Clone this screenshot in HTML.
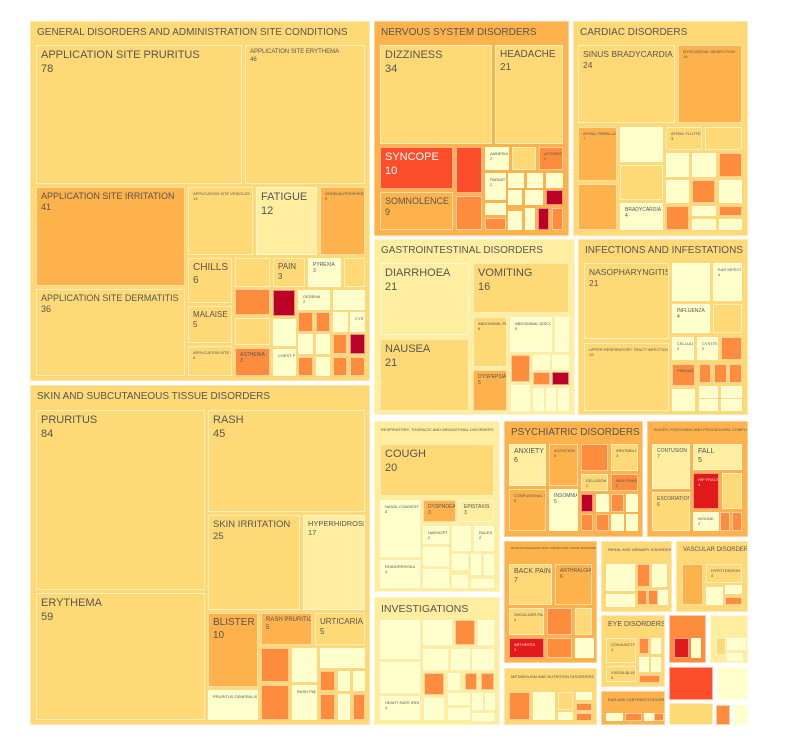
<!DOCTYPE html>
<html><head><meta charset="utf-8"><style>
body{margin:0;background:#fff;width:811px;height:754px;position:relative;overflow:hidden;font-family:"Liberation Sans",sans-serif}
div{position:absolute;box-sizing:border-box;border:1px solid rgba(255,255,255,.55);color:#555;padding:3px 4px;line-height:1.25;overflow:hidden;white-space:nowrap}
.p{border:1px solid rgba(255,255,255,.4);padding:5px 6px;font-size:10px}
.a{background:#ffffcc}.b{background:#ffeda0}.c{background:#fed976}.d{background:#feb24c}.e{background:#fd8d3c}.f{background:#fc4e2a;color:#fff}.g{background:#e31a1c;color:#fdd}.h{background:#bd0026}
.L{font-size:11px}.M{font-size:8px}.S{font-size:5px}.T{font-size:4px}
</style></head><body>
<!-- General -->
<div class="p c" style="left:30px;top:21px;width:340px;height:360px">GENERAL DISORDERS AND ADMINISTRATION SITE CONDITIONS</div>
<div class="c L" style="left:36px;top:45px;width:206px;height:139px">APPLICATION SITE PRURITUS<br>78</div>
<div class="c S" style="left:245px;top:45px;width:120px;height:139px;font-size:6px">APPLICATION SITE ERYTHEMA<br>46</div>
<div class="d" style="left:36px;top:187px;width:149px;height:99px;font-size:9px">APPLICATION SITE IRRITATION<br>41</div>
<div class="c" style="left:36px;top:289px;width:149px;height:87px;font-size:9px">APPLICATION SITE DERMATITIS<br>36</div>
<div class="c T" style="left:188px;top:187px;width:65px;height:68px">APPLICATION SITE VESICLES<br>13</div>
<div class="b L" style="left:256px;top:187px;width:61px;height:68px">FATIGUE<br>12</div>
<div class="d T" style="left:320px;top:187px;width:45px;height:68px">OEDEMA PERIPHERAL<br>9</div>
<div class="c" style="left:188px;top:258px;width:44px;height:45px;font-size:10px">CHILLS<br>6</div>
<div class="c M" style="left:188px;top:306px;width:44px;height:37px">MALAISE<br>5</div>
<div class="c T" style="left:188px;top:346px;width:44px;height:30px">APPLICATION SITE SWELLING<br>4</div>
<div class="c" style="left:235px;top:258px;width:35px;height:29px"></div>
<div class="c M" style="left:273px;top:258px;width:32px;height:29px">PAIN<br>3</div>
<div class="a S" style="left:308px;top:258px;width:33px;height:29px">PYREXIA<br>3</div>
<div class="c" style="left:344px;top:258px;width:21px;height:29px"></div>
<div class="e" style="left:235px;top:289px;width:35px;height:26px"></div>
<div class="h" style="left:273px;top:290px;width:22px;height:26px"></div>
<div class="a T" style="left:298px;top:290px;width:32px;height:20px">OEDEMA<br>2</div>
<div class="a" style="left:333px;top:290px;width:32px;height:20px"></div>
<div class="c" style="left:235px;top:318px;width:35px;height:27px"></div>
<div class="a" style="left:273px;top:319px;width:23px;height:27px"></div>
<div class="e" style="left:298px;top:312px;width:15px;height:20px"></div>
<div class="e" style="left:316px;top:312px;width:14px;height:20px"></div>
<div class="a" style="left:333px;top:312px;width:15px;height:20px"></div>
<div class="a T" style="left:350px;top:312px;width:15px;height:20px">CYST</div>
<div class="a" style="left:298px;top:334px;width:15px;height:20px"></div>
<div class="a" style="left:316px;top:334px;width:14px;height:20px"></div>
<div class="e" style="left:333px;top:334px;width:14px;height:20px"></div>
<div class="h" style="left:350px;top:334px;width:15px;height:20px"></div>
<div class="e S" style="left:235px;top:348px;width:35px;height:28px">ASTHENIA<br>3</div>
<div class="a T" style="left:273px;top:349px;width:23px;height:27px">CHEST PAIN</div>
<div class="e" style="left:298px;top:357px;width:15px;height:19px"></div>
<div class="a" style="left:316px;top:357px;width:14px;height:19px"></div>
<div class="e" style="left:333px;top:357px;width:14px;height:19px"></div>
<div class="e" style="left:350px;top:357px;width:15px;height:19px"></div>
<!-- Skin -->
<div class="p c" style="left:30px;top:385px;width:340px;height:340px">SKIN AND SUBCUTANEOUS TISSUE DISORDERS</div>
<div class="c L" style="left:36px;top:410px;width:169px;height:180px">PRURITUS<br>84</div>
<div class="c L" style="left:36px;top:593px;width:169px;height:127px">ERYTHEMA<br>59</div>
<div class="c L" style="left:208px;top:410px;width:157px;height:102px">RASH<br>45</div>
<div class="c" style="left:208px;top:515px;width:92px;height:95px;font-size:9.5px">SKIN IRRITATION<br>25</div>
<div class="b" style="left:303px;top:515px;width:62px;height:95px;font-size:7.5px">HYPERHIDROSIS<br>17</div>
<div class="d" style="left:208px;top:613px;width:50px;height:74px;font-size:10px">BLISTER<br>10</div>
<div class="a T" style="left:208px;top:690px;width:50px;height:30px">PRURITUS GENERALISED</div>
<div class="d" style="left:261px;top:613px;width:51px;height:32px;font-size:6px">RASH PRURITIC<br>5</div>
<div class="c M" style="left:315px;top:613px;width:50px;height:32px">URTICARIA<br>5</div>
<div class="e" style="left:261px;top:648px;width:28px;height:34px"></div>
<div class="a" style="left:292px;top:648px;width:25px;height:34px"></div>
<div class="a" style="left:320px;top:648px;width:45px;height:20px"></div>
<div class="e" style="left:320px;top:671px;width:15px;height:20px"></div>
<div class="a" style="left:338px;top:671px;width:12px;height:20px"></div>
<div class="a" style="left:353px;top:671px;width:12px;height:20px"></div>
<div class="e" style="left:261px;top:685px;width:28px;height:35px"></div>
<div class="a T" style="left:292px;top:685px;width:25px;height:35px">RASH PAPULAR</div>
<div class="e" style="left:320px;top:694px;width:15px;height:26px"></div>
<div class="a" style="left:338px;top:694px;width:12px;height:26px"></div>
<div class="e" style="left:353px;top:694px;width:12px;height:26px"></div>
<!-- Nervous -->
<div class="p d" style="left:374px;top:21px;width:195px;height:215px">NERVOUS SYSTEM DISORDERS</div>
<div class="c L" style="left:380px;top:45px;width:112px;height:99px">DIZZINESS<br>34</div>
<div class="c" style="left:495px;top:45px;width:68px;height:99px;font-size:10px">HEADACHE<br>21</div>
<div class="f L" style="left:380px;top:147px;width:73px;height:42px">SYNCOPE<br>10</div>
<div class="d" style="left:380px;top:192px;width:73px;height:38px;font-size:9px">SOMNOLENCE<br>9</div>
<div class="f" style="left:456px;top:147px;width:26px;height:46px"></div>
<div class="e" style="left:456px;top:196px;width:26px;height:34px"></div>
<div class="a T" style="left:485px;top:147px;width:24px;height:23px">AMNESIA<br>2</div>
<div class="c" style="left:512px;top:147px;width:24px;height:23px"></div>
<div class="e T" style="left:539px;top:147px;width:24px;height:23px">LETHARGY<br>2</div>
<div class="a T" style="left:485px;top:173px;width:21px;height:27px">PARAES<br>2</div>
<div class="a" style="left:508px;top:173px;width:16px;height:15px"></div>
<div class="a" style="left:527px;top:173px;width:16px;height:15px"></div>
<div class="a" style="left:546px;top:173px;width:17px;height:15px"></div>
<div class="a" style="left:485px;top:203px;width:21px;height:12px"></div>
<div class="e" style="left:485px;top:218px;width:21px;height:12px"></div>
<div class="a" style="left:508px;top:190px;width:14px;height:15px"></div>
<div class="a" style="left:525px;top:190px;width:18px;height:15px"></div>
<div class="h" style="left:546px;top:190px;width:17px;height:15px"></div>
<div class="a" style="left:508px;top:211px;width:14px;height:19px"></div>
<div class="a" style="left:525px;top:208px;width:10px;height:22px"></div>
<div class="h" style="left:538px;top:208px;width:11px;height:22px"></div>
<div class="e" style="left:552px;top:208px;width:11px;height:22px"></div>
<!-- Cardiac -->
<div class="p c" style="left:573px;top:21px;width:175px;height:215px">CARDIAC DISORDERS</div>
<div class="c" style="left:578px;top:45px;width:97px;height:78px;font-size:8.5px">SINUS BRADYCARDIA<br>24</div>
<div class="d T" style="left:678px;top:45px;width:64px;height:78px">MYOCARDIAL INFARCTION<br>16</div>
<div class="d T" style="left:578px;top:127px;width:39px;height:54px">ATRIAL FIBRILLATION<br>7</div>
<div class="d" style="left:578px;top:184px;width:39px;height:46px"></div>
<div class="a" style="left:620px;top:127px;width:43px;height:35px"></div>
<div class="c" style="left:620px;top:165px;width:43px;height:35px"></div>
<div class="a S" style="left:620px;top:203px;width:43px;height:27px">BRADYCARDIA<br>4</div>
<div class="c T" style="left:666px;top:127px;width:36px;height:23px">ATRIAL FLUTTER<br>3</div>
<div class="c" style="left:705px;top:127px;width:37px;height:23px"></div>
<div class="a" style="left:666px;top:153px;width:23px;height:24px"></div>
<div class="a" style="left:692px;top:153px;width:24px;height:24px"></div>
<div class="e" style="left:719px;top:153px;width:23px;height:24px"></div>
<div class="a" style="left:666px;top:180px;width:23px;height:23px"></div>
<div class="e" style="left:692px;top:180px;width:23px;height:23px"></div>
<div class="a" style="left:719px;top:180px;width:23px;height:23px"></div>
<div class="e" style="left:666px;top:206px;width:23px;height:24px"></div>
<div class="a" style="left:692px;top:206px;width:24px;height:10px"></div>
<div class="e" style="left:719px;top:206px;width:23px;height:10px"></div>
<div class="a" style="left:692px;top:219px;width:24px;height:11px"></div>
<div class="a" style="left:719px;top:219px;width:23px;height:11px"></div>
<!-- GI -->
<div class="p b" style="left:374px;top:239px;width:201px;height:176px">GASTROINTESTINAL DISORDERS</div>
<div class="b L" style="left:380px;top:263px;width:89px;height:72px">DIARRHOEA<br>21</div>
<div class="c L" style="left:380px;top:339px;width:89px;height:72px">NAUSEA<br>21</div>
<div class="c L" style="left:473px;top:263px;width:96px;height:50px">VOMITING<br>16</div>
<div class="c T" style="left:473px;top:317px;width:34px;height:50px">ABDOMINAL PAIN<br>6</div>
<div class="a T" style="left:510px;top:317px;width:42px;height:35px">ABDOMINAL DISCOMFORT<br>5</div>
<div class="a" style="left:555px;top:317px;width:14px;height:35px"></div>
<div class="d S" style="left:473px;top:370px;width:34px;height:41px">DYSPEPSIA<br>5</div>
<div class="e" style="left:511px;top:355px;width:19px;height:27px"></div>
<div class="a" style="left:533px;top:355px;width:17px;height:15px"></div>
<div class="a" style="left:552px;top:355px;width:17px;height:15px"></div>
<div class="e" style="left:533px;top:372px;width:17px;height:13px"></div>
<div class="h" style="left:552px;top:372px;width:17px;height:13px"></div>
<div class="a" style="left:511px;top:385px;width:19px;height:26px"></div>
<div class="a" style="left:533px;top:388px;width:11px;height:23px"></div>
<div class="a" style="left:546px;top:388px;width:10px;height:23px"></div>
<div class="a" style="left:558px;top:388px;width:11px;height:23px"></div>
<!-- Infections -->
<div class="p c" style="left:578px;top:239px;width:170px;height:176px">INFECTIONS AND INFESTATIONS</div>
<div class="c" style="left:584px;top:263px;width:85px;height:76px;font-size:8.5px">NASOPHARYNGITIS<br>21</div>
<div class="c T" style="left:584px;top:343px;width:85px;height:68px">UPPER RESPIRATORY TRACT INFECTION<br>19</div>
<div class="a" style="left:672px;top:263px;width:38px;height:38px"></div>
<div class="a T" style="left:713px;top:263px;width:29px;height:38px">EAR INFECTION<br>4</div>
<div class="a S" style="left:672px;top:304px;width:38px;height:29px">INFLUENZA<br>4</div>
<div class="c" style="left:713px;top:304px;width:29px;height:29px"></div>
<div class="a T" style="left:672px;top:337px;width:22px;height:23px">CELLULITIS<br>2</div>
<div class="a T" style="left:697px;top:337px;width:21px;height:23px">CYSTITIS<br>2</div>
<div class="e" style="left:721px;top:337px;width:21px;height:23px"></div>
<div class="e T" style="left:672px;top:364px;width:23px;height:22px">PNEUMONIA</div>
<div class="e" style="left:699px;top:364px;width:12px;height:19px"></div>
<div class="e" style="left:714px;top:364px;width:13px;height:19px"></div>
<div class="e" style="left:729px;top:364px;width:13px;height:19px"></div>
<div class="a" style="left:672px;top:389px;width:23px;height:22px"></div>
<div class="a" style="left:699px;top:386px;width:19px;height:12px"></div>
<div class="a" style="left:721px;top:386px;width:21px;height:12px"></div>
<div class="a" style="left:699px;top:399px;width:19px;height:12px"></div>
<div class="a" style="left:721px;top:399px;width:21px;height:12px"></div>
<!-- Respiratory -->
<div class="p b" style="left:374px;top:421px;width:126px;height:171px;font-size:4px">RESPIRATORY, THORACIC AND MEDIASTINAL DISORDERS</div>
<div class="c L" style="left:380px;top:444px;width:114px;height:52px">COUGH<br>20</div>
<div class="a T" style="left:380px;top:500px;width:40px;height:57px">NASAL CONGESTION<br>8</div>
<div class="a T" style="left:380px;top:560px;width:40px;height:28px">RHINORRHOEA<br>4</div>
<div class="d S" style="left:423px;top:500px;width:33px;height:22px">DYSPNOEA<br>3</div>
<div class="b S" style="left:459px;top:500px;width:35px;height:22px">EPISTAXIS<br>3</div>
<div class="a T" style="left:423px;top:526px;width:26px;height:18px">HAEMOPTYSIS<br>2</div>
<div class="a" style="left:452px;top:526px;width:19px;height:25px"></div>
<div class="a T" style="left:474px;top:526px;width:20px;height:25px">RALES<br>2</div>
<div class="a" style="left:423px;top:547px;width:26px;height:19px"></div>
<div class="a" style="left:452px;top:554px;width:16px;height:16px"></div>
<div class="a" style="left:471px;top:554px;width:10px;height:21px"></div>
<div class="a" style="left:484px;top:554px;width:10px;height:21px"></div>
<div class="a" style="left:423px;top:569px;width:26px;height:19px"></div>
<div class="a" style="left:452px;top:575px;width:16px;height:13px"></div>
<div class="a" style="left:471px;top:579px;width:23px;height:9px"></div>
<!-- Investigations -->
<div class="p b" style="left:374px;top:597px;width:126px;height:128px;font-size:10.5px">INVESTIGATIONS</div>
<div class="a" style="left:380px;top:620px;width:40px;height:39px"></div>
<div class="a" style="left:423px;top:620px;width:29px;height:25px"></div>
<div class="e" style="left:455px;top:620px;width:20px;height:25px"></div>
<div class="a" style="left:478px;top:620px;width:16px;height:25px"></div>
<div class="a" style="left:423px;top:649px;width:25px;height:21px"></div>
<div class="a" style="left:451px;top:649px;width:19px;height:21px"></div>
<div class="a" style="left:472px;top:649px;width:22px;height:21px"></div>
<div class="a" style="left:380px;top:662px;width:40px;height:31px"></div>
<div class="a T" style="left:380px;top:696px;width:40px;height:24px">HEART RATE IRREGULAR<br>4</div>
<div class="e" style="left:424px;top:673px;width:20px;height:22px"></div>
<div class="a" style="left:448px;top:673px;width:12px;height:17px"></div>
<div class="e" style="left:465px;top:673px;width:12px;height:17px"></div>
<div class="e" style="left:481px;top:673px;width:13px;height:17px"></div>
<div class="a" style="left:424px;top:698px;width:20px;height:22px"></div>
<div class="a" style="left:448px;top:693px;width:22px;height:12px"></div>
<div class="a" style="left:472px;top:693px;width:11px;height:17px"></div>
<div class="a" style="left:485px;top:693px;width:9px;height:17px"></div>
<div class="a" style="left:448px;top:708px;width:22px;height:12px"></div>
<div class="a" style="left:472px;top:713px;width:22px;height:7px"></div>
<!-- Psychiatric -->
<div class="p d" style="left:504px;top:421px;width:139px;height:116px">PSYCHIATRIC DISORDERS</div>
<div class="b" style="left:509px;top:444px;width:37px;height:42px;font-size:7px">ANXIETY<br>6</div>
<div class="d T" style="left:549px;top:444px;width:29px;height:42px">AGITATION<br>5</div>
<div class="e" style="left:581px;top:444px;width:27px;height:27px"></div>
<div class="c T" style="left:611px;top:444px;width:27px;height:27px">IRRITABILITY<br>3</div>
<div class="c T" style="left:581px;top:474px;width:27px;height:17px">DELUSION<br>2</div>
<div class="e T" style="left:611px;top:474px;width:27px;height:17px">NIGHTMARE<br>2</div>
<div class="d T" style="left:509px;top:489px;width:37px;height:42px">CONFUSIONAL STATE<br>5</div>
<div class="a S" style="left:549px;top:489px;width:29px;height:42px">INSOMNIA<br>5</div>
<div class="h" style="left:581px;top:494px;width:12px;height:18px"></div>
<div class="a" style="left:596px;top:494px;width:13px;height:18px"></div>
<div class="e" style="left:611px;top:494px;width:13px;height:18px"></div>
<div class="a" style="left:626px;top:494px;width:12px;height:18px"></div>
<div class="e" style="left:581px;top:514px;width:12px;height:17px"></div>
<div class="e" style="left:596px;top:514px;width:13px;height:17px"></div>
<div class="a" style="left:611px;top:514px;width:13px;height:17px"></div>
<div class="a" style="left:626px;top:514px;width:12px;height:17px"></div>
<!-- Injury -->
<div class="p d" style="left:647px;top:421px;width:101px;height:116px;font-size:4px">INJURY, POISONING AND PROCEDURAL COMPLICATIONS</div>
<div class="b S" style="left:652px;top:444px;width:38px;height:45px">CONTUSION<br>7</div>
<div class="b" style="left:693px;top:444px;width:49px;height:26px;font-size:7px">FALL<br>5</div>
<div class="c S" style="left:652px;top:492px;width:38px;height:39px">EXCORIATION<br>6</div>
<div class="g T" style="left:693px;top:473px;width:26px;height:36px">HIP FRACTURE<br>4</div>
<div class="c" style="left:722px;top:473px;width:20px;height:36px"></div>
<div class="a T" style="left:693px;top:512px;width:26px;height:19px">WOUND<br>2</div>
<div class="e" style="left:720px;top:512px;width:9px;height:19px"></div>
<div class="e" style="left:732px;top:512px;width:10px;height:19px"></div>
<!-- Musculoskeletal -->
<div class="p d" style="left:504px;top:541px;width:93px;height:122px;font-size:3px">MUSCULOSKELETAL AND CONNECTIVE TISSUE DISORDERS</div>
<div class="c" style="left:509px;top:564px;width:43px;height:41px;font-size:7px">BACK PAIN<br>7</div>
<div class="d S" style="left:555px;top:564px;width:37px;height:41px">ARTHRALGIA<br>6</div>
<div class="c T" style="left:509px;top:608px;width:35px;height:27px">SHOULDER PAIN<br>4</div>
<div class="e" style="left:547px;top:608px;width:25px;height:27px"></div>
<div class="c" style="left:575px;top:608px;width:17px;height:27px"></div>
<div class="g T" style="left:509px;top:638px;width:35px;height:20px">ARTHRITIS<br>3</div>
<div class="e" style="left:547px;top:638px;width:25px;height:20px"></div>
<div class="a" style="left:575px;top:638px;width:8px;height:20px"></div>
<div class="a" style="left:584px;top:638px;width:8px;height:20px"></div>
<!-- Metabolism -->
<div class="p c" style="left:504px;top:668px;width:93px;height:57px;font-size:4px">METABOLISM AND NUTRITION DISORDERS</div>
<div class="e" style="left:509px;top:692px;width:21px;height:28px"></div>
<div class="a" style="left:533px;top:692px;width:22px;height:28px"></div>
<div class="c" style="left:558px;top:692px;width:15px;height:18px"></div>
<div class="a" style="left:576px;top:692px;width:16px;height:8px"></div>
<div class="e" style="left:576px;top:703px;width:16px;height:8px"></div>
<div class="a" style="left:558px;top:712px;width:15px;height:8px"></div>
<div class="e" style="left:576px;top:713px;width:16px;height:7px"></div>
<!-- Renal -->
<div class="p c" style="left:601px;top:541px;width:71px;height:71px;font-size:4px">RENAL AND URINARY DISORDERS</div>
<div class="a" style="left:606px;top:564px;width:29px;height:27px"></div>
<div class="e" style="left:637px;top:564px;width:13px;height:23px"></div>
<div class="a" style="left:652px;top:564px;width:15px;height:23px"></div>
<div class="a" style="left:606px;top:594px;width:29px;height:13px"></div>
<div class="e" style="left:637px;top:590px;width:8px;height:15px"></div>
<div class="e" style="left:648px;top:590px;width:8px;height:15px"></div>
<div class="a" style="left:658px;top:590px;width:9px;height:15px"></div>
<!-- Vascular -->
<div class="p c" style="left:676px;top:541px;width:72px;height:71px;font-size:6px">VASCULAR DISORDERS</div>
<div class="d" style="left:682px;top:564px;width:21px;height:41px"></div>
<div class="c T" style="left:706px;top:564px;width:36px;height:19px">HYPOTENSION<br>4</div>
<div class="a" style="left:706px;top:587px;width:17px;height:18px"></div>
<div class="a" style="left:725px;top:585px;width:17px;height:9px"></div>
<div class="e" style="left:725px;top:597px;width:17px;height:8px"></div>
<!-- Eye -->
<div class="p c" style="left:601px;top:615px;width:64px;height:72px;font-size:7px">EYE DISORDERS</div>
<div class="c T" style="left:606px;top:638px;width:30px;height:25px">CONJUNCTIVITIS<br>4</div>
<div class="e" style="left:639px;top:638px;width:9px;height:16px"></div>
<div class="a" style="left:651px;top:638px;width:9px;height:16px"></div>
<div class="c T" style="left:606px;top:666px;width:30px;height:16px">VISION BLURRED<br>3</div>
<div class="a" style="left:639px;top:657px;width:9px;height:15px"></div>
<div class="a" style="left:651px;top:657px;width:9px;height:15px"></div>
<div class="e" style="left:639px;top:675px;width:21px;height:7px"></div>
<!-- Ear -->
<div class="p d" style="left:601px;top:691px;width:64px;height:34px;font-size:4px">EAR AND LABYRINTH DISORDERS</div>
<div class="a" style="left:606px;top:713px;width:17px;height:7px"></div>
<div class="e" style="left:625px;top:713px;width:17px;height:7px"></div>
<div class="a" style="left:644px;top:713px;width:8px;height:7px"></div>
<div class="e" style="left:654px;top:713px;width:7px;height:7px"></div>
<!-- misc -->
<div class="e" style="left:669px;top:615px;width:37px;height:48px"></div>
<div class="g" style="left:674px;top:638px;width:15px;height:20px"></div>
<div class="a" style="left:691px;top:638px;width:9px;height:20px"></div>
<div class="b" style="left:710px;top:615px;width:38px;height:48px"></div>
<div class="c" style="left:716px;top:638px;width:9px;height:17px"></div>
<div class="a" style="left:727px;top:638px;width:7px;height:12px"></div>
<div class="a" style="left:736px;top:638px;width:7px;height:12px"></div>
<div class="a" style="left:727px;top:653px;width:16px;height:5px"></div>
<div class="f" style="left:669px;top:667px;width:44px;height:33px"></div>
<div class="a" style="left:717px;top:667px;width:31px;height:33px"></div>
<div class="c" style="left:669px;top:703px;width:44px;height:22px"></div>
<div class="e" style="left:716px;top:705px;width:14px;height:20px"></div>
<div class="a" style="left:733px;top:705px;width:15px;height:20px"></div>
</body></html>
